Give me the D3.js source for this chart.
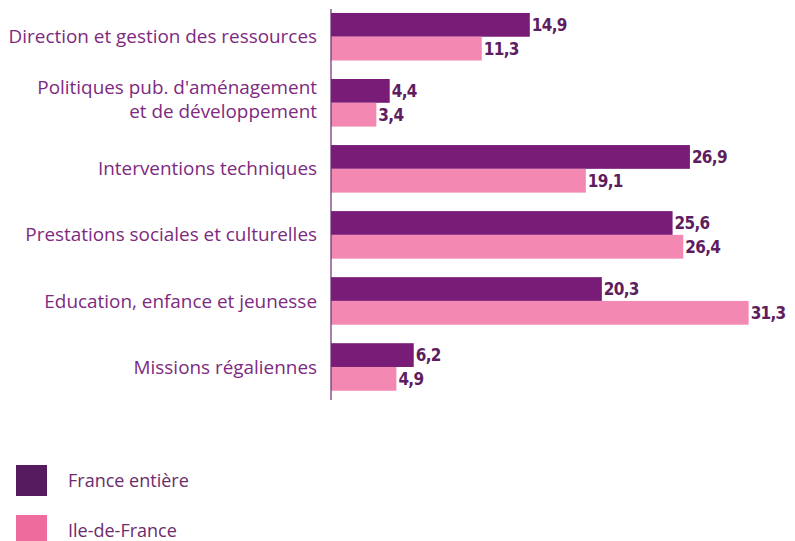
<!DOCTYPE html>
<html>
<head>
<meta charset="utf-8">
<script src="https://cdn.jsdelivr.net/npm/d3@7"></script>
<style>
  body { margin: 0; background: #fff; }
  svg { display: block; }
  .cat { font-family: "Open Sans", sans-serif; font-size: 18.9px; fill: #7d2a80; }
  .val { font-family: "DejaVu Sans Condensed", "DejaVu Sans", sans-serif; font-weight: bold; font-size: 17px; fill: #5e1d5f; letter-spacing: -0.7px; }
  .leg { font-family: "Open Sans", sans-serif; font-size: 18px; fill: #6b2c6e; }
</style>
</head>
<body>
<script>
// categories (two-line labels split on "|")
var categories = [
  "Direction et gestion des ressources",
  "Politiques pub. d'aménagement|et de développement",
  "Interventions techniques",
  "Prestations sociales et culturelles",
  "Education, enfance et jeunesse",
  "Missions régaliennes"
];
var franceEntiere = [14.9, 4.4, 26.9, 25.6, 20.3, 6.2];
var ileDeFrance = [11.3, 3.4, 19.1, 26.4, 31.3, 4.9];
var seriesNames = ["France entière", "Ile-de-France"];

var barColors = ["#781c78", "#f389b2"];
var legendColors = ["#561a5e", "#ee6b9d"];

var width = 795, height = 541;

var svg = d3.select("body").append("svg")
  .attr("width", width)
  .attr("height", height);

var x = d3.scaleLinear().domain([0, 35]).range([331, 798]);

var y = d3.scaleBand()
  .domain(categories)
  .range([9, 400])
  .paddingInner(0.28)
  .paddingOuter(0.1)
  .align(0.3);

var ySub = d3.scaleBand()
  .domain(seriesNames)
  .range([0, y.bandwidth()]);

var rows = categories.map(function (c, i) {
  return { cat: c, values: [franceEntiere[i], ileDeFrance[i]] };
});

var group = svg.selectAll(".grp")
  .data(rows).enter()
  .append("g")
  .attr("class", "grp")
  .attr("transform", function (d) { return "translate(0," + y(d.cat) + ")"; });

group.selectAll("rect")
  .data(function (d) { return d.values.map(function (v, j) { return { v: v, s: seriesNames[j], j: j }; }); })
  .enter().append("rect")
  .attr("x", x(0))
  .attr("y", function (d) { return ySub(d.s); })
  .attr("width", function (d) { return x(d.v) - x(0); })
  .attr("height", ySub.bandwidth())
  .attr("fill", function (d) { return barColors[d.j]; });

group.selectAll(".val")
  .data(function (d) { return d.values.map(function (v, j) { return { v: v, s: seriesNames[j] }; }); })
  .enter().append("text")
  .attr("class", "val")
  .attr("x", function (d) { return x(d.v) + 2; })
  .attr("y", function (d) { return ySub(d.s) + ySub.bandwidth() / 2; })
  .attr("dy", "0.36em")
  .text(function (d) { return d3.format(".1f")(d.v).replace(".", ","); });

// category labels
group.append("text")
  .attr("class", "cat")
  .attr("text-anchor", "end")
  .attr("x", 317)
  .each(function (d) {
    var lines = d.cat.split("|");
    var t = d3.select(this);
    var lh = 24;
    var start = y.bandwidth() / 2 - (lines.length - 1) * lh / 2 - (lines.length > 1 ? 3 : 0);
    lines.forEach(function (l, k) {
      t.append("tspan")
        .attr("x", 317)
        .attr("y", start + k * lh)
        .attr("dy", "0.35em")
        .text(l);
    });
  });

// vertical axis line
svg.append("line")
  .attr("x1", x(0)).attr("x2", x(0))
  .attr("y1", y.range()[0]).attr("y2", y.range()[1])
  .attr("stroke", "#6b2c6e")
  .attr("stroke-width", 1.2);

// legend
var legend = svg.selectAll(".legitem")
  .data(seriesNames).enter()
  .append("g")
  .attr("transform", function (d, i) { return "translate(16," + (465 + i * 50) + ")"; });

legend.append("rect")
  .attr("width", 31).attr("height", 31)
  .attr("fill", function (d, i) { return legendColors[i]; });

legend.append("text")
  .attr("class", "leg")
  .attr("x", 52)
  .attr("y", 16)
  .attr("dy", "0.35em")
  .text(function (d) { return d; });
</script>
</body>
</html>
